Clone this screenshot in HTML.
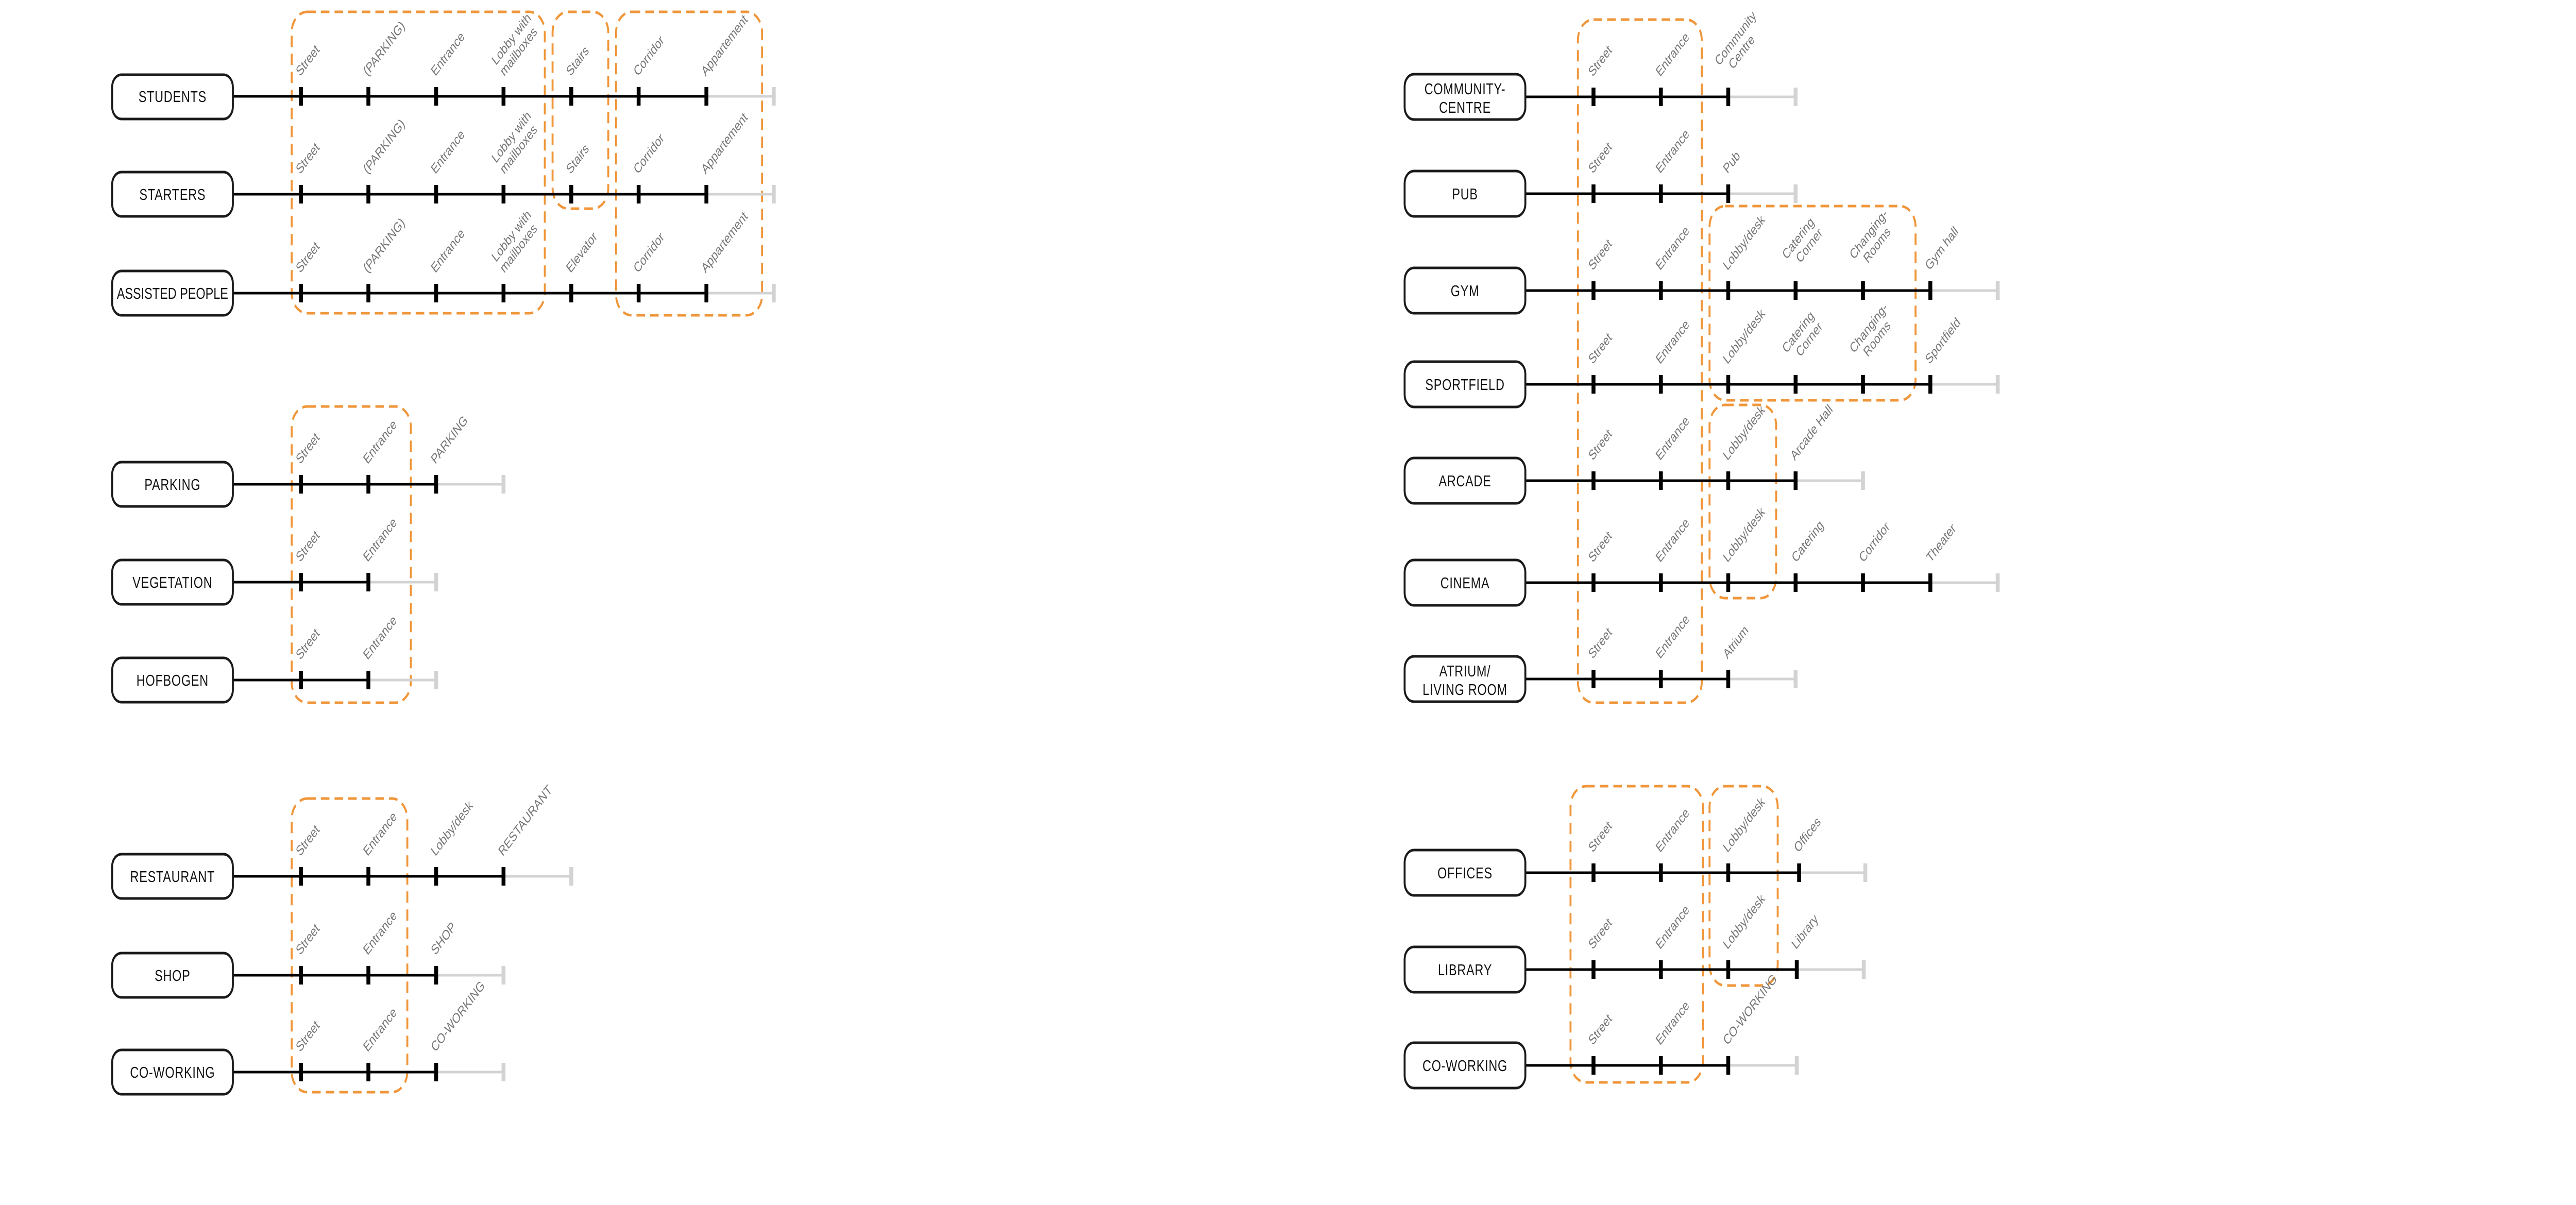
<!DOCTYPE html>
<html><head><meta charset="utf-8"><style>
html,body{margin:0;padding:0;background:#fff;width:100%;height:100%;overflow:hidden}
svg{display:block;width:100vw;height:100vh}
.b{fill:#fff;stroke:#1a1a1a;stroke-width:5}
.bt{font-family:"Liberation Sans",sans-serif;font-size:31px;fill:#111;text-anchor:middle;letter-spacing:1px}
.l{font-family:"Liberation Sans",sans-serif;font-size:27px;fill:#777}
.k{stroke:#000;stroke-width:5}
.g{stroke:#d3d3d3;stroke-width:5}
.d{fill:none;stroke:#F0963A;stroke-width:5;stroke-dasharray:22 13}
</style></head><body>
<svg viewBox="0 0 6615 2339" preserveAspectRatio="none" xmlns="http://www.w3.org/2000/svg">
<defs>
<rect id="t" x="-5" y="-18" width="10" height="36" fill="#000"/>
<rect id="e" x="-5" y="-18" width="10" height="36" fill="#d3d3d3"/>
</defs>

<rect class="d" x="749" y="23" width="650" height="585" rx="40"/>
<rect class="d" x="1419" y="23" width="143" height="382" rx="40"/>
<rect class="d" x="1582" y="23" width="375" height="589" rx="40"/>
<rect class="d" x="749" y="789" width="306" height="575" rx="40"/>
<rect class="d" x="749" y="1550" width="297" height="570" rx="40"/>
<rect class="d" x="4052" y="38" width="318" height="1326" rx="40"/>
<rect class="d" x="4390" y="400" width="529" height="377" rx="40"/>
<rect class="d" x="4390" y="786" width="171" height="375" rx="40"/>
<rect class="d" x="4033" y="1526" width="340" height="575" rx="40"/>
<rect class="d" x="4390" y="1526" width="175" height="387" rx="40"/>

<line class="k" x1="598" y1="187" x2="1814" y2="187"/><line class="g" x1="1814" y1="187" x2="1987" y2="187"/>
<use href="#t" x="773" y="187"/><use href="#t" x="946" y="187"/><use href="#t" x="1120" y="187"/><use href="#t" x="1293" y="187"/><use href="#t" x="1467" y="187"/><use href="#t" x="1640" y="187"/><use href="#t" x="1814" y="187"/><use href="#e" x="1987" y="187"/>
<rect class="b" x="288" y="145" width="310" height="86" rx="24"/><text class="bt" x="443" y="198">STUDENTS</text>
<text class="l" transform="translate(771,149) rotate(-45)">Street</text>
<text class="l" transform="translate(944,149) rotate(-45)">(PARKING)</text>
<text class="l" transform="translate(1118,149) rotate(-45)">Entrance</text>
<text class="l" transform="translate(1295,149) rotate(-45)"><tspan x="0" y="-30">Lobby with</tspan><tspan x="0" y="0">mailboxes</tspan></text>
<text class="l" transform="translate(1465,149) rotate(-45)">Stairs</text>
<text class="l" transform="translate(1638,149) rotate(-45)">Corridor</text>
<text class="l" transform="translate(1812,149) rotate(-45)">Appartement</text>

<line class="k" x1="598" y1="377" x2="1814" y2="377"/><line class="g" x1="1814" y1="377" x2="1987" y2="377"/>
<use href="#t" x="773" y="377"/><use href="#t" x="946" y="377"/><use href="#t" x="1120" y="377"/><use href="#t" x="1293" y="377"/><use href="#t" x="1467" y="377"/><use href="#t" x="1640" y="377"/><use href="#t" x="1814" y="377"/><use href="#e" x="1987" y="377"/>
<rect class="b" x="288" y="334" width="310" height="86" rx="24"/><text class="bt" x="443" y="388">STARTERS</text>
<text class="l" transform="translate(771,339) rotate(-45)">Street</text>
<text class="l" transform="translate(944,339) rotate(-45)">(PARKING)</text>
<text class="l" transform="translate(1118,339) rotate(-45)">Entrance</text>
<text class="l" transform="translate(1295,339) rotate(-45)"><tspan x="0" y="-30">Lobby with</tspan><tspan x="0" y="0">mailboxes</tspan></text>
<text class="l" transform="translate(1465,339) rotate(-45)">Stairs</text>
<text class="l" transform="translate(1638,339) rotate(-45)">Corridor</text>
<text class="l" transform="translate(1812,339) rotate(-45)">Appartement</text>

<line class="k" x1="598" y1="569" x2="1814" y2="569"/><line class="g" x1="1814" y1="569" x2="1987" y2="569"/>
<use href="#t" x="773" y="569"/><use href="#t" x="946" y="569"/><use href="#t" x="1120" y="569"/><use href="#t" x="1293" y="569"/><use href="#t" x="1467" y="569"/><use href="#t" x="1640" y="569"/><use href="#t" x="1814" y="569"/><use href="#e" x="1987" y="569"/>
<rect class="b" x="288" y="526" width="310" height="86" rx="24"/><text class="bt" x="443" y="580" style="letter-spacing:0">ASSISTED PEOPLE</text>
<text class="l" transform="translate(771,531) rotate(-45)">Street</text>
<text class="l" transform="translate(944,531) rotate(-45)">(PARKING)</text>
<text class="l" transform="translate(1118,531) rotate(-45)">Entrance</text>
<text class="l" transform="translate(1295,531) rotate(-45)"><tspan x="0" y="-30">Lobby with</tspan><tspan x="0" y="0">mailboxes</tspan></text>
<text class="l" transform="translate(1465,531) rotate(-45)">Elevator</text>
<text class="l" transform="translate(1638,531) rotate(-45)">Corridor</text>
<text class="l" transform="translate(1812,531) rotate(-45)">Appartement</text>

<line class="k" x1="598" y1="940" x2="1120" y2="940"/><line class="g" x1="1120" y1="940" x2="1293" y2="940"/>
<use href="#t" x="773" y="940"/><use href="#t" x="946" y="940"/><use href="#t" x="1120" y="940"/><use href="#e" x="1293" y="940"/>
<rect class="b" x="288" y="897" width="310" height="86" rx="24"/><text class="bt" x="443" y="951">PARKING</text>
<text class="l" transform="translate(771,902) rotate(-45)">Street</text>
<text class="l" transform="translate(944,902) rotate(-45)">Entrance</text>
<text class="l" transform="translate(1118,902) rotate(-45)">PARKING</text>

<line class="k" x1="598" y1="1130" x2="946" y2="1130"/><line class="g" x1="946" y1="1130" x2="1120" y2="1130"/>
<use href="#t" x="773" y="1130"/><use href="#t" x="946" y="1130"/><use href="#e" x="1120" y="1130"/>
<rect class="b" x="288" y="1087" width="310" height="86" rx="24"/><text class="bt" x="443" y="1141">VEGETATION</text>
<text class="l" transform="translate(771,1092) rotate(-45)">Street</text>
<text class="l" transform="translate(944,1092) rotate(-45)">Entrance</text>

<line class="k" x1="598" y1="1320" x2="946" y2="1320"/><line class="g" x1="946" y1="1320" x2="1120" y2="1320"/>
<use href="#t" x="773" y="1320"/><use href="#t" x="946" y="1320"/><use href="#e" x="1120" y="1320"/>
<rect class="b" x="288" y="1277" width="310" height="86" rx="24"/><text class="bt" x="443" y="1331">HOFBOGEN</text>
<text class="l" transform="translate(771,1282) rotate(-45)">Street</text>
<text class="l" transform="translate(944,1282) rotate(-45)">Entrance</text>

<line class="k" x1="598" y1="1701" x2="1293" y2="1701"/><line class="g" x1="1293" y1="1701" x2="1467" y2="1701"/>
<use href="#t" x="773" y="1701"/><use href="#t" x="946" y="1701"/><use href="#t" x="1120" y="1701"/><use href="#t" x="1293" y="1701"/><use href="#e" x="1467" y="1701"/>
<rect class="b" x="288" y="1658" width="310" height="86" rx="24"/><text class="bt" x="443" y="1712">RESTAURANT</text>
<text class="l" transform="translate(771,1663) rotate(-45)">Street</text>
<text class="l" transform="translate(944,1663) rotate(-45)">Entrance</text>
<text class="l" transform="translate(1118,1663) rotate(-45)">Lobby/desk</text>
<text class="l" transform="translate(1291,1663) rotate(-45)">RESTAURANT</text>

<line class="k" x1="598" y1="1893" x2="1120" y2="1893"/><line class="g" x1="1120" y1="1893" x2="1293" y2="1893"/>
<use href="#t" x="773" y="1893"/><use href="#t" x="946" y="1893"/><use href="#t" x="1120" y="1893"/><use href="#e" x="1293" y="1893"/>
<rect class="b" x="288" y="1850" width="310" height="86" rx="24"/><text class="bt" x="443" y="1904">SHOP</text>
<text class="l" transform="translate(771,1855) rotate(-45)">Street</text>
<text class="l" transform="translate(944,1855) rotate(-45)">Entrance</text>
<text class="l" transform="translate(1118,1855) rotate(-45)">SHOP</text>

<line class="k" x1="598" y1="2081" x2="1120" y2="2081"/><line class="g" x1="1120" y1="2081" x2="1293" y2="2081"/>
<use href="#t" x="773" y="2081"/><use href="#t" x="946" y="2081"/><use href="#t" x="1120" y="2081"/><use href="#e" x="1293" y="2081"/>
<rect class="b" x="288" y="2038" width="310" height="86" rx="24"/><text class="bt" x="443" y="2092">CO-WORKING</text>
<text class="l" transform="translate(771,2043) rotate(-45)">Street</text>
<text class="l" transform="translate(944,2043) rotate(-45)">Entrance</text>
<text class="l" transform="translate(1118,2043) rotate(-45)">CO-WORKING</text>

<line class="k" x1="3917" y1="188" x2="4438" y2="188"/><line class="g" x1="4438" y1="188" x2="4611" y2="188"/>
<use href="#t" x="4092" y="188"/><use href="#t" x="4265" y="188"/><use href="#t" x="4438" y="188"/><use href="#e" x="4611" y="188"/>
<rect class="b" x="3607" y="144" width="310" height="88" rx="24"/><text class="bt" x="3762" y="183">COMMUNITY-</text><text class="bt" x="3762" y="219">CENTRE</text>
<text class="l" transform="translate(4090,150) rotate(-45)">Street</text>
<text class="l" transform="translate(4263,150) rotate(-45)">Entrance</text>
<text class="l" transform="translate(4436,150) rotate(-45)"><tspan x="0" y="-30">Community</tspan><tspan x="20" y="0">Centre</tspan></text>

<line class="k" x1="3917" y1="376" x2="4438" y2="376"/><line class="g" x1="4438" y1="376" x2="4611" y2="376"/>
<use href="#t" x="4092" y="376"/><use href="#t" x="4265" y="376"/><use href="#t" x="4438" y="376"/><use href="#e" x="4611" y="376"/>
<rect class="b" x="3607" y="332" width="310" height="88" rx="24"/><text class="bt" x="3762" y="387">PUB</text>
<text class="l" transform="translate(4090,338) rotate(-45)">Street</text>
<text class="l" transform="translate(4263,338) rotate(-45)">Entrance</text>
<text class="l" transform="translate(4436,338) rotate(-45)">Pub</text>

<line class="k" x1="3917" y1="564" x2="4957" y2="564"/><line class="g" x1="4957" y1="564" x2="5130" y2="564"/>
<use href="#t" x="4092" y="564"/><use href="#t" x="4265" y="564"/><use href="#t" x="4438" y="564"/><use href="#t" x="4611" y="564"/><use href="#t" x="4784" y="564"/><use href="#t" x="4957" y="564"/><use href="#e" x="5130" y="564"/>
<rect class="b" x="3607" y="520" width="310" height="88" rx="24"/><text class="bt" x="3762" y="575">GYM</text>
<text class="l" transform="translate(4090,526) rotate(-45)">Street</text>
<text class="l" transform="translate(4263,526) rotate(-45)">Entrance</text>
<text class="l" transform="translate(4436,526) rotate(-45)">Lobby/desk</text>
<text class="l" transform="translate(4609,526) rotate(-45)"><tspan x="0" y="-30">Catering</tspan><tspan x="20" y="0">Corner</tspan></text>
<text class="l" transform="translate(4782,526) rotate(-45)"><tspan x="0" y="-30">Changing-</tspan><tspan x="20" y="0">Rooms</tspan></text>
<text class="l" transform="translate(4955,526) rotate(-45)">Gym hall</text>

<line class="k" x1="3917" y1="746" x2="4957" y2="746"/><line class="g" x1="4957" y1="746" x2="5130" y2="746"/>
<use href="#t" x="4092" y="746"/><use href="#t" x="4265" y="746"/><use href="#t" x="4438" y="746"/><use href="#t" x="4611" y="746"/><use href="#t" x="4784" y="746"/><use href="#t" x="4957" y="746"/><use href="#e" x="5130" y="746"/>
<rect class="b" x="3607" y="702" width="310" height="88" rx="24"/><text class="bt" x="3762" y="757">SPORTFIELD</text>
<text class="l" transform="translate(4090,708) rotate(-45)">Street</text>
<text class="l" transform="translate(4263,708) rotate(-45)">Entrance</text>
<text class="l" transform="translate(4436,708) rotate(-45)">Lobby/desk</text>
<text class="l" transform="translate(4609,708) rotate(-45)"><tspan x="0" y="-30">Catering</tspan><tspan x="20" y="0">Corner</tspan></text>
<text class="l" transform="translate(4782,708) rotate(-45)"><tspan x="0" y="-30">Changing-</tspan><tspan x="20" y="0">Rooms</tspan></text>
<text class="l" transform="translate(4955,708) rotate(-45)">Sportfield</text>

<line class="k" x1="3917" y1="933" x2="4611" y2="933"/><line class="g" x1="4611" y1="933" x2="4784" y2="933"/>
<use href="#t" x="4092" y="933"/><use href="#t" x="4265" y="933"/><use href="#t" x="4438" y="933"/><use href="#t" x="4611" y="933"/><use href="#e" x="4784" y="933"/>
<rect class="b" x="3607" y="889" width="310" height="88" rx="24"/><text class="bt" x="3762" y="944">ARCADE</text>
<text class="l" transform="translate(4090,895) rotate(-45)">Street</text>
<text class="l" transform="translate(4263,895) rotate(-45)">Entrance</text>
<text class="l" transform="translate(4436,895) rotate(-45)">Lobby/desk</text>
<text class="l" transform="translate(4609,895) rotate(-45)">Arcade Hall</text>

<line class="k" x1="3917" y1="1131" x2="4957" y2="1131"/><line class="g" x1="4957" y1="1131" x2="5130" y2="1131"/>
<use href="#t" x="4092" y="1131"/><use href="#t" x="4265" y="1131"/><use href="#t" x="4438" y="1131"/><use href="#t" x="4611" y="1131"/><use href="#t" x="4784" y="1131"/><use href="#t" x="4957" y="1131"/><use href="#e" x="5130" y="1131"/>
<rect class="b" x="3607" y="1087" width="310" height="88" rx="24"/><text class="bt" x="3762" y="1142">CINEMA</text>
<text class="l" transform="translate(4090,1093) rotate(-45)">Street</text>
<text class="l" transform="translate(4263,1093) rotate(-45)">Entrance</text>
<text class="l" transform="translate(4436,1093) rotate(-45)">Lobby/desk</text>
<text class="l" transform="translate(4612,1093) rotate(-45)">Catering</text>
<text class="l" transform="translate(4785,1093) rotate(-45)">Corridor</text>
<text class="l" transform="translate(4958,1093) rotate(-45)">Theater</text>

<line class="k" x1="3917" y1="1318" x2="4438" y2="1318"/><line class="g" x1="4438" y1="1318" x2="4611" y2="1318"/>
<use href="#t" x="4092" y="1318"/><use href="#t" x="4265" y="1318"/><use href="#t" x="4438" y="1318"/><use href="#e" x="4611" y="1318"/>
<rect class="b" x="3607" y="1274" width="310" height="88" rx="24"/><text class="bt" x="3762" y="1313">ATRIUM/</text><text class="bt" x="3762" y="1349">LIVING ROOM</text>
<text class="l" transform="translate(4090,1280) rotate(-45)">Street</text>
<text class="l" transform="translate(4263,1280) rotate(-45)">Entrance</text>
<text class="l" transform="translate(4436,1280) rotate(-45)">Atrium</text>

<line class="k" x1="3917" y1="1694" x2="4620" y2="1694"/><line class="g" x1="4620" y1="1694" x2="4790" y2="1694"/>
<use href="#t" x="4092" y="1694"/><use href="#t" x="4265" y="1694"/><use href="#t" x="4438" y="1694"/><use href="#t" x="4620" y="1694"/><use href="#e" x="4790" y="1694"/>
<rect class="b" x="3607" y="1650" width="310" height="88" rx="24"/><text class="bt" x="3762" y="1705">OFFICES</text>
<text class="l" transform="translate(4090,1656) rotate(-45)">Street</text>
<text class="l" transform="translate(4263,1656) rotate(-45)">Entrance</text>
<text class="l" transform="translate(4436,1656) rotate(-45)">Lobby/desk</text>
<text class="l" transform="translate(4618,1656) rotate(-45)">Offices</text>

<line class="k" x1="3917" y1="1882" x2="4614" y2="1882"/><line class="g" x1="4614" y1="1882" x2="4786" y2="1882"/>
<use href="#t" x="4092" y="1882"/><use href="#t" x="4265" y="1882"/><use href="#t" x="4438" y="1882"/><use href="#t" x="4614" y="1882"/><use href="#e" x="4786" y="1882"/>
<rect class="b" x="3607" y="1838" width="310" height="88" rx="24"/><text class="bt" x="3762" y="1893">LIBRARY</text>
<text class="l" transform="translate(4090,1844) rotate(-45)">Street</text>
<text class="l" transform="translate(4263,1844) rotate(-45)">Entrance</text>
<text class="l" transform="translate(4436,1844) rotate(-45)">Lobby/desk</text>
<text class="l" transform="translate(4612,1844) rotate(-45)">Library</text>

<line class="k" x1="3917" y1="2068" x2="4438" y2="2068"/><line class="g" x1="4438" y1="2068" x2="4614" y2="2068"/>
<use href="#t" x="4092" y="2068"/><use href="#t" x="4265" y="2068"/><use href="#t" x="4438" y="2068"/><use href="#e" x="4614" y="2068"/>
<rect class="b" x="3607" y="2024" width="310" height="88" rx="24"/><text class="bt" x="3762" y="2079">CO-WORKING</text>
<text class="l" transform="translate(4090,2030) rotate(-45)">Street</text>
<text class="l" transform="translate(4263,2030) rotate(-45)">Entrance</text>
<text class="l" transform="translate(4436,2030) rotate(-45)">CO-WORKING</text>
</svg>
</body></html>
